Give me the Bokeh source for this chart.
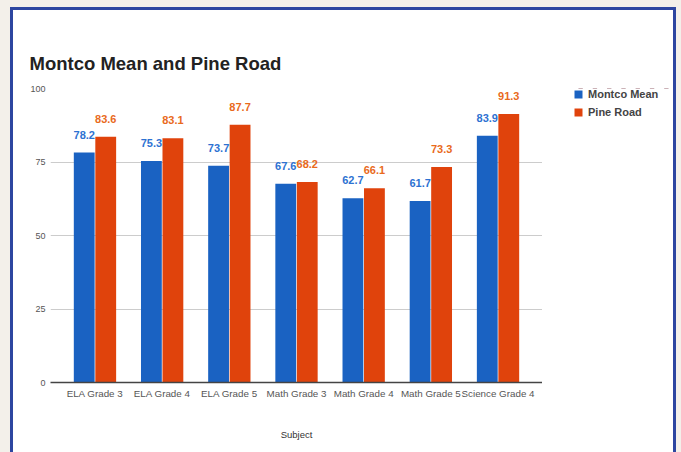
from bokeh.plotting import figure
from bokeh.models import ColumnDataSource, Range1d, FactorRange, Legend, LegendItem
from bokeh.transform import dodge
from bokeh.layouts import column, row
from bokeh.embed import file_html
from bokeh.resources import INLINE
from bokeh.core.properties import value

subjects = ["ELA Grade 3", "ELA Grade 4", "ELA Grade 5", "Math Grade 3",
            "Math Grade 4", "Math Grade 5", "Science Grade 4"]
montco_mean = [78.2, 75.3, 73.7, 67.6, 62.7, 61.7, 83.9]
pine_road = [83.6, 83.1, 87.7, 68.2, 66.1, 73.3, 91.3]
series_names = ["Montco Mean", "Pine Road"]
y_ticks = [0, 25, 50, 75, 100]

BLUE = "#1a62c2"
ORANGE = "#e0430c"
BLUE_TXT = "#2d72d2"
ORANGE_TXT = "#e96a1c"
FONT = "Liberation Sans"

src = ColumnDataSource(dict(
    subject=subjects,
    montco=montco_mean,
    pine=pine_road,
    montco_lbl=[f"{v:.1f}" for v in montco_mean],
    pine_lbl=[f"{v:.1f}" for v in pine_road],
))

p = figure(
    x_range=FactorRange(factors=subjects, range_padding=0.0463),
    y_range=Range1d(0, 100),
    width=529, height=442,
    output_backend="svg", toolbar_location=None,
    min_border_left=37, min_border_right=0,
    min_border_top=78, min_border_bottom=70,
    title="Montco Mean and Pine Road",
)

p.vbar(x=dodge("subject", -0.16, range=p.x_range), top="montco", width=0.31,
       source=src, fill_color=BLUE, line_color=None)
p.vbar(x=dodge("subject", 0.16, range=p.x_range), top="pine", width=0.31,
       source=src, fill_color=ORANGE, line_color=None)

p.text(x=dodge("subject", -0.16, range=p.x_range), y="montco", text="montco_lbl",
       source=src, text_align="center", text_baseline="middle", y_offset=-18,
       text_font=value(FONT), text_font_style="bold", text_font_size="11px",
       text_color=BLUE_TXT)
p.text(x=dodge("subject", 0.16, range=p.x_range), y="pine", text="pine_lbl",
       source=src, text_align="center", text_baseline="middle", y_offset=-18,
       text_font=value(FONT), text_font_style="bold", text_font_size="11px",
       text_color=ORANGE_TXT)

p.title.text_font = FONT
p.title.text_font_size = "18.5px"
p.title.text_font_style = "bold"
p.title.text_color = "#222222"
p.title.align = "left"
p.title.offset = -21
p.title.standoff = 30

p.outline_line_color = None
p.background_fill_color = "white"
p.border_fill_color = "white"

p.yaxis.ticker = y_ticks
p.yaxis.axis_line_color = None
p.yaxis.major_tick_line_color = None
p.yaxis.minor_tick_line_color = None
p.yaxis.major_tick_out = 0
p.yaxis.major_tick_in = 0
p.yaxis.major_label_text_font = FONT
p.yaxis.major_label_text_font_size = "9px"
p.yaxis.major_label_text_color = "#555555"
p.yaxis.major_label_standoff = 5

p.xaxis.axis_line_color = "#444444"
p.xaxis.axis_line_width = 1.5
p.xaxis.major_tick_line_color = None
p.xaxis.minor_tick_line_color = None
p.xaxis.major_tick_out = 0
p.xaxis.major_tick_in = 0
p.xaxis.major_label_text_font = FONT
p.xaxis.major_label_text_font_size = "9.8px"
p.xaxis.major_label_text_color = "#555555"
p.xaxis.major_label_standoff = 5
p.xaxis.axis_label = "Subject"
p.xaxis.axis_label_text_font = FONT
p.xaxis.axis_label_text_font_size = "9.5px"
p.xaxis.axis_label_text_font_style = "normal"
p.xaxis.axis_label_text_color = "#333333"
p.xaxis.axis_label_standoff = 27

p.xgrid.grid_line_color = None
p.ygrid.grid_line_color = "#cccccc"

# legend panel: a companion figure whose (out-of-view) bars supply the swatches
lg = figure(width=131, height=442, output_backend="svg", toolbar_location=None,
            x_range=FactorRange(factors=subjects), y_range=Range1d(-2, -1),
            min_border_left=31, min_border_right=0, min_border_top=78,
            min_border_bottom=70, x_axis_location=None, y_axis_location=None)
lg.grid.visible = False
lg.outline_line_color = None
lg.background_fill_color = "white"
lg.border_fill_color = "white"
s1 = lg.vbar(x="subject", top="montco", width=0.3, source=src,
             fill_color=BLUE, line_color=None)
s2 = lg.vbar(x="subject", top="pine", width=0.3, source=src,
             fill_color=ORANGE, line_color=None)

legend = Legend(
    items=[LegendItem(label=series_names[0], renderers=[s1]),
           LegendItem(label=series_names[1], renderers=[s2])],
    location="top_left",
    border_line_color=None, background_fill_alpha=0,
    padding=0, margin=0,
    glyph_width=10, glyph_height=10, label_height=10,
    spacing=6, label_standoff=5,
    label_text_font=FONT, label_text_font_size="11px",
    label_text_font_style="bold", label_text_color="#444444",
)
lg.add_layout(legend, "center")

inner = row(p, lg, styles={
    "background-color": "white",
    "border-left": "3px solid #2d46a0",
    "border-top": "3px solid #2d46a0",
    "border-right": "3px solid #2d46a0",
})
outer = column(inner, styles={
    "background-color": "#f3f0ea",
    "padding-left": "10px",
    "padding-top": "7px",
    "padding-right": "5px",
})

open("out.html", "w").write(file_html(outer, INLINE))
